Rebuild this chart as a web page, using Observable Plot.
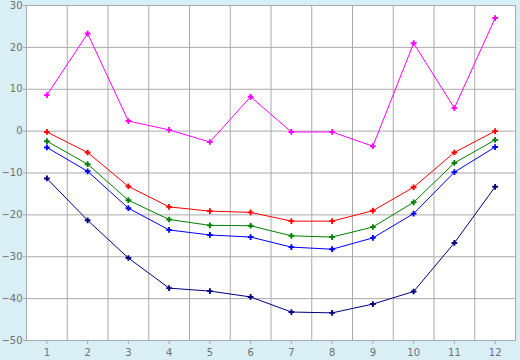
<!DOCTYPE html>
<html>
<head>
<meta charset="utf-8">
<script src="https://cdn.jsdelivr.net/npm/d3@7"></script>
<script src="https://cdn.jsdelivr.net/npm/@observablehq/plot@0.6"></script>
<style>
  html, body { margin: 0; padding: 0; background: #d9eff6; }
  #chart { width: 520px; height: 360px; }
</style>
</head>
<body>
<div id="chart"></div>
<script>
const months = [1, 2, 3, 4, 5, 6, 7, 8, 9, 10, 11, 12];
const yTicks = [30, 20, 10, 0, -10, -20, -30, -40, -50];
const magenta = [8.6, 23.3, 2.4, 0.3, -2.6, 8.2, -0.2, -0.2, -3.6, 21.0, 5.5, 27.0];
const red     = [-0.2, -5.1, -13.2, -18.1, -19.1, -19.4, -21.5, -21.5, -19.0, -13.4, -5.1, 0.0];
const green   = [-2.4, -7.9, -16.5, -21.1, -22.5, -22.6, -25.0, -25.3, -22.9, -17.0, -7.6, -2.1];
const blue    = [-3.9, -9.6, -18.4, -23.6, -24.8, -25.3, -27.7, -28.2, -25.5, -19.7, -9.8, -3.8];
const navy    = [-11.3, -21.3, -30.3, -37.5, -38.2, -39.6, -43.2, -43.4, -41.3, -38.3, -26.7, -13.3];

const seriesList = [
  {name: "magenta", values: magenta, color: "#ff00ff"},
  {name: "red", values: red, color: "#ff0000"},
  {name: "green", values: green, color: "#006400"},
  {name: "blue", values: blue, color: "#3333cc"},
  {name: "navy", values: navy, color: "#000099"}
];
const rows = seriesList.flatMap(s => s.values.map((v, i) => ({series: s.name, month: months[i], value: v})));
const vGrid = d3.range(months[0] - 0.5, months[months.length - 1] + 1, 1);

const plot = Plot.plot({
  width: 520,
  height: 360,
  marginLeft: 26,
  marginRight: 5,
  marginTop: 5,
  marginBottom: 20,
  style: {background: "transparent", fontFamily: "DejaVu Sans, sans-serif", fontSize: "10px", color: "#707070"},
  x: {domain: [0.5, 12.5], ticks: months, tickSize: 4, tickPadding: 4, tickFormat: d => String(d), label: null},
  y: {domain: [-50, 30], ticks: yTicks, tickSize: 3, tickPadding: 1, label: null},
  color: {domain: seriesList.map(s => s.name), range: seriesList.map(s => s.color)},
  marks: [
    Plot.frame({fill: "white", stroke: "none"}),
    Plot.ruleY(yTicks, {stroke: "#aaaaaa", strokeWidth: 1}),
    Plot.ruleX(vGrid, {stroke: "#aaaaaa", strokeWidth: 1}),
    Plot.frame({stroke: "#aaaaaa"}),
    Plot.axisX({ticks: months, tickSize: 4, tickPadding: 4, stroke: "#aaaaaa", fill: "#707070", fontSize: 10, tickFormat: d => String(d)}),
    Plot.axisY({ticks: yTicks, tickSize: 3, tickPadding: 1, stroke: "#aaaaaa", fill: "#707070", fontSize: 10}),
    Plot.line(rows, {x: "month", y: "value", z: "series", stroke: "series", strokeWidth: 1}),
    Plot.dot(rows, {x: "month", y: "value", fill: "series", symbol: "cross", r: 2.4, stroke: "none"})
  ]
});
document.getElementById("chart").appendChild(plot);
</script>
</body>
</html>
